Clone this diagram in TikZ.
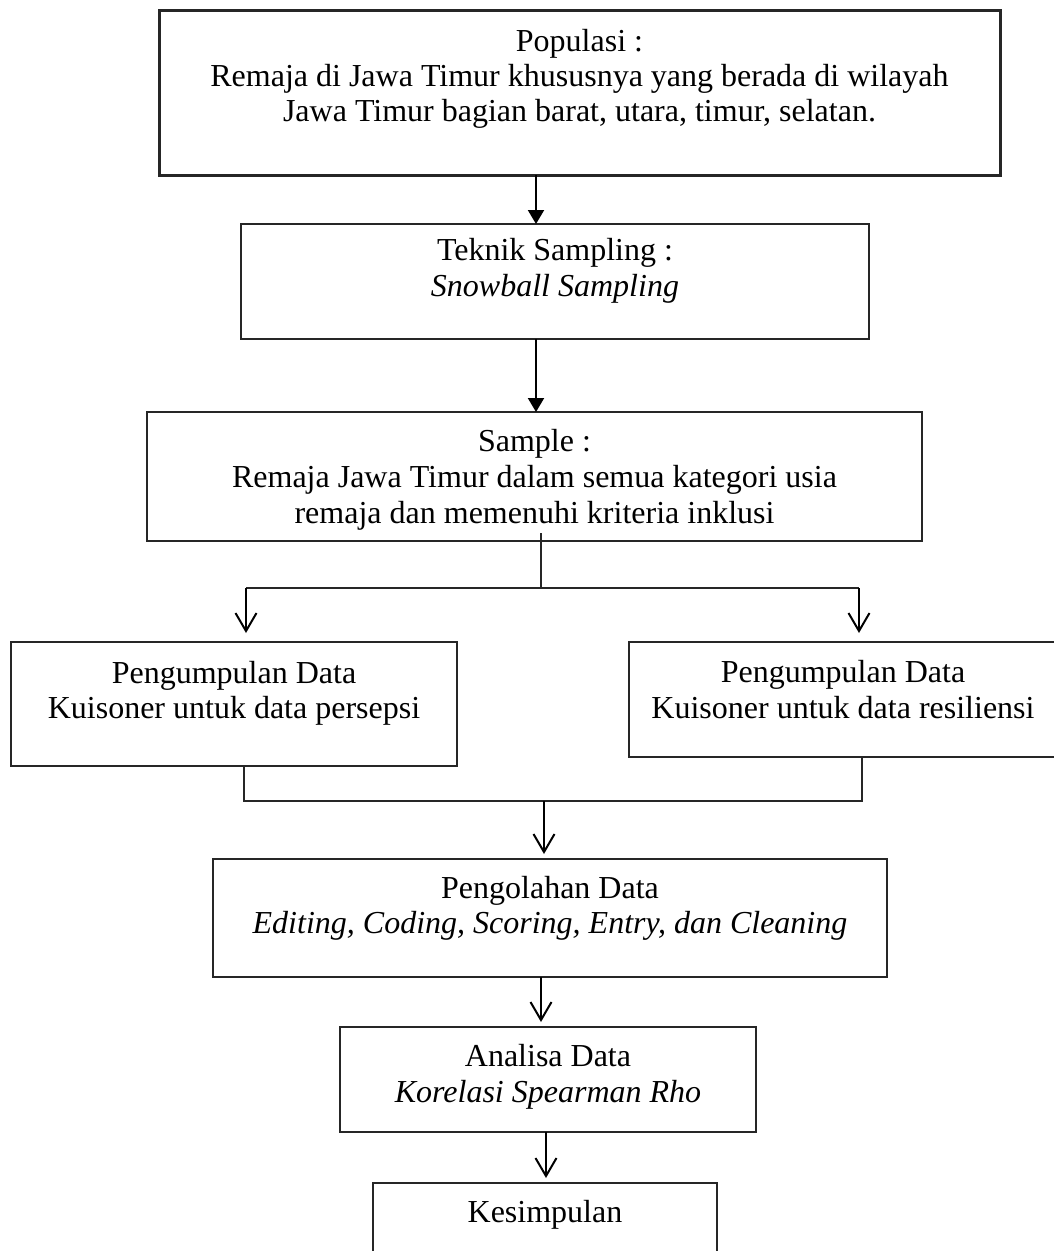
\documentclass[tikz,border=0pt]{standalone}
\usepackage{fontspec}
\setmainfont{Liberation Serif}
\usetikzlibrary{arrows.meta}

\tikzset{
  stepbox/.style={draw=black!85, line width=1.3pt, rectangle, inner sep=0pt, outer sep=0pt, anchor=north west},
  thickbox/.style={stepbox, line width=3pt},
  txt/.style={inner sep=0pt, outer sep=0pt, anchor=base, font=\fontsize{32}{35}\selectfont},
  itxt/.style={txt, font=\fontsize{32}{35}\selectfont\itshape},
  farrow/.style={line width=2pt, -{Triangle[length=14pt, width=16pt]}},
  varrow/.style={line width=2pt, -{Straight Barb[length=18pt, width=21pt, line width=2pt]}},
  link/.style={line width=1.3pt, draw=black!85},
}

\begin{document}
\begin{tikzpicture}[x=1pt, y=-1pt]
\useasboundingbox (0,0) rectangle (1054,1251);
\fill[white] (0,0) rectangle (1054,1251);
\clip (0,0) rectangle (1054,1251);

% boxes (top-left corner, size)
\node[thickbox, minimum width=841pt, minimum height=165pt] (pop) at (159,10) {};
\node[stepbox, minimum width=628pt, minimum height=115pt] (tek) at (241,224) {};
\node[stepbox, minimum width=775pt, minimum height=129pt] (sam) at (147,412) {};
\node[stepbox, minimum width=446pt, minimum height=124pt] (left) at (11,642) {};
\node[stepbox, minimum width=426pt, minimum height=115pt] (right) at (629,642) {};
\node[stepbox, minimum width=674pt, minimum height=118pt] (olah) at (213,859) {};
\node[stepbox, minimum width=416pt, minimum height=105pt] (ana) at (340,1027) {};
\node[stepbox, minimum width=344pt, minimum height=100pt] (kes) at (373,1183) {};

% texts
\node[txt] (pop1) at (579.5,51) {Populasi :};
\node[txt] (pop2) at (579.5,86) {Remaja di Jawa Timur khususnya yang berada di wilayah};
\node[txt] (pop3) at (579.5,121) {Jawa Timur bagian barat, utara, timur, selatan.};

\node[txt] (tek1) at (555,260) {Teknik Sampling :};
\node[itxt] (tek2) at (555,296) {Snowball Sampling};

\node[txt] (sam1) at (534.5,451) {Sample :};
\node[txt] (sam2) at (534.5,487) {Remaja Jawa Timur dalam semua kategori usia};
\node[txt] (sam3) at (534.5,523) {remaja dan memenuhi kriteria inklusi};

\node[txt] (left1) at (234,683) {Pengumpulan Data};
\node[txt] (left2) at (234,718) {Kuisoner untuk data persepsi};

\node[txt] (right1) at (843,682) {Pengumpulan Data};
\node[txt] (right2) at (843,718) {Kuisoner untuk data resiliensi};

\node[txt] (olah1) at (550,898) {Pengolahan Data};
\node[itxt] (olah2) at (550,933) {Editing, Coding, Scoring, Entry, dan Cleaning};

\node[txt] (ana1) at (548,1066) {Analisa Data};
\node[itxt] (ana2) at (548,1102) {Korelasi Spearman Rho};

\node[txt] (kes1) at (545,1222) {Kesimpulan};

% connector positions
\coordinate (c1) at (536,0);
\coordinate (c2) at (541,0);
\coordinate (jl) at (246,588);
\coordinate (jr) at (859,588);
\coordinate (ml) at (244,801);
\coordinate (mr) at (862,801);
\coordinate (mm) at (544,801);
\coordinate (c5) at (541,0);
\coordinate (c6) at (546,0);

% connectors
\draw[farrow] (pop.south -| c1) -- (tek.north -| c1);
\draw[farrow] (tek.south -| c1) -- (sam.north -| c1);

\draw[link] ([yshift=8pt]sam.south -| c2) -- (jl -| c2);
\draw[link] (jl) -- (jr);
\draw[varrow, shorten >=9pt] (jl) -- (left.north -| jl);
\draw[varrow, shorten >=9pt] (jr) -- (right.north -| jr);

\draw[link] (left.south -| ml) -- (ml) -- (mr) -- (right.south -| mr);
\draw[varrow, shorten >=5pt] (mm) -- (olah.north -| mm);
\draw[varrow, shorten >=5pt] (olah.south -| c5) -- (ana.north -| c5);
\draw[varrow, shorten >=5pt] (ana.south -| c6) -- (kes.north -| c6);
\end{tikzpicture}
\end{document}
